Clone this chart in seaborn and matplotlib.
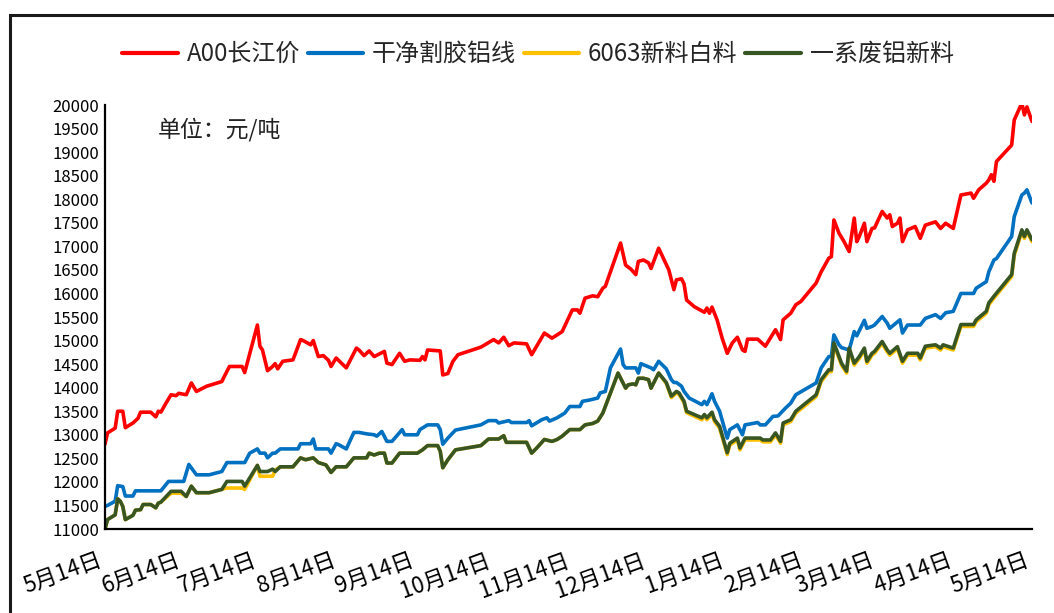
import numpy as np
import pandas as pd
import matplotlib
matplotlib.use("Agg")
import matplotlib.pyplot as plt
import matplotlib.dates as mdates
import matplotlib.transforms as mtransforms
from matplotlib.patches import Rectangle
import seaborn as sns

# ---------------- data (day offsets from 2020-05-14, price in 元/吨) ----------------
start_date = "2020-05-14"
end_date = "2021-05-14"

red_days = [0, 1, 4, 5, 7, 8, 11, 13, 14, 18, 20, 21, 22, 24, 26, 28, 29, 32, 34, 36, 40, 46, 47, 49, 54, 55,
            60, 61, 62, 64, 66, 67, 68, 70, 74, 75, 77, 78, 81, 82, 84, 86, 88, 89, 91, 95, 99, 100, 102, 104,
            106, 110, 111, 113, 116, 118, 120, 124, 125, 126, 127, 132, 133, 135, 137, 139, 148, 153, 155, 157,
            159, 161, 166, 168, 173, 176, 180, 184, 186, 187, 189, 192, 194, 196, 197, 203, 205, 207, 209, 210,
            212, 214, 215, 218, 222, 224, 225, 227, 228, 229, 232, 236, 237, 238, 239, 241, 243, 245, 247, 249,
            251, 252, 253, 257, 260, 264, 266, 267, 270, 272, 274, 280, 282, 285, 286, 287, 289, 291, 293, 295,
            296, 297, 299, 300, 302, 303, 306, 308, 309, 310, 312, 313, 314, 316, 319, 321, 323, 327, 329, 331,
            334, 337, 341, 342, 344, 347, 348, 349, 350, 351, 357, 358, 361, 362, 363, 365]
red_vals = [12800, 13040, 13140, 13500, 13500, 13150, 13250, 13350, 13480, 13480, 13380, 13500, 13480, 13670,
            13850, 13830, 13880, 13850, 14100, 13920, 14030, 14130, 14240, 14450, 14450, 14320, 15330, 14880,
            14800, 14360, 14450, 14510, 14400, 14560, 14590, 14730, 15020, 15000, 14910, 15000, 14660, 14680,
            14580, 14450, 14630, 14420, 14840, 14800, 14680, 14780, 14660, 14770, 14520, 14490, 14730, 14560,
            14590, 14580, 14660, 14590, 14800, 14780, 14270, 14300, 14560, 14700, 14860, 15020, 14950, 15070,
            14890, 14950, 14930, 14700, 15160, 15050, 15190, 15650, 15650, 15580, 15900, 15950, 15930, 16110,
            16150, 17070, 16600, 16520, 16400, 16680, 16710, 16650, 16530, 16960, 16500, 16080, 16290, 16310,
            16200, 15860, 15720, 15600, 15690, 15580, 15710, 15440, 15050, 14730, 14950, 15070, 14800, 14770,
            15030, 15030, 14880, 15230, 15020, 15440, 15580, 15760, 15830, 16220, 16460, 16750, 16780, 17560,
            17280, 17100, 16890, 17600, 17100, 17210, 17490, 17100, 17380, 17390, 17740, 17600, 17670, 17420,
            17490, 17600, 17100, 17350, 17420, 17170, 17450, 17520, 17380, 17490, 17380, 18090, 18130, 18020,
            18200, 18340, 18410, 18520, 18380, 18800, 19150, 19680, 20040, 19790, 19960, 19650]

blue_days = [0, 1, 4, 5, 7, 8, 11, 12, 22, 25, 31, 33, 36, 41, 46, 48, 55, 57, 60, 61, 63, 64, 66, 67, 69, 76,
             77, 81, 82, 83, 88, 89, 91, 92, 95, 98, 100, 103, 106, 107, 109, 111, 113, 117, 118, 123, 124, 127,
             131, 132, 133, 135, 138, 148, 151, 154, 155, 159, 160, 166, 167, 168, 172, 174, 175, 178, 181, 183,
             187, 188, 191, 194, 195, 197, 199, 203, 204, 205, 209, 210, 211, 215, 216, 218, 221, 223, 224, 225,
             227, 228, 230, 235, 236, 237, 239, 240, 242, 245, 246, 249, 251, 252, 257, 258, 260, 263, 265, 268,
             270, 272, 280, 282, 285, 286, 287, 289, 290, 293, 295, 296, 299, 300, 302, 303, 306, 308, 309, 313,
             314, 316, 321, 323, 327, 329, 331, 334, 337, 342, 343, 347, 348, 350, 351, 357, 358, 361, 362, 363,
             365]
blue_vals = [11480, 11500, 11590, 11920, 11900, 11700, 11700, 11810, 11810, 12010, 12010, 12370, 12150, 12150,
             12220, 12410, 12410, 12610, 12700, 12610, 12610, 12510, 12610, 12610, 12700, 12700, 12810, 12810,
             12910, 12700, 12700, 12610, 12810, 12790, 12700, 13050, 13050, 13020, 13000, 12970, 13070, 12860,
             12860, 13110, 13000, 13000, 13110, 13210, 13210, 13110, 12800, 12930, 13100, 13210, 13300, 13300,
             13250, 13300, 13260, 13260, 13300, 13190, 13320, 13360, 13290, 13360, 13460, 13600, 13600, 13710,
             13740, 13780, 13890, 13920, 14420, 14820, 14490, 14420, 14420, 14310, 14510, 14420, 14380, 14560,
             14400, 14170, 14110, 14110, 14030, 13920, 13780, 13640, 13710, 13640, 13870, 13710, 13500, 12930,
             13110, 13210, 13000, 13210, 13260, 13210, 13210, 13390, 13400, 13570, 13670, 13850, 14100, 14420,
             14660, 14660, 15120, 14910, 14850, 14800, 15190, 15100, 15430, 15260, 15300, 15330, 15510, 15370,
             15260, 15440, 15160, 15330, 15330, 15470, 15550, 15470, 15590, 15620, 16000, 16000, 16110, 16250,
             16460, 16710, 16740, 17210, 17630, 18090, 18130, 18200, 17920]

green_days = [0, 1, 4, 5, 6, 7, 8, 11, 12, 14, 15, 18, 20, 21, 22, 26, 30, 32, 34, 36, 41, 46, 48, 54, 55, 60,
              61, 64, 66, 67, 69, 74, 77, 79, 82, 84, 87, 89, 91, 95, 98, 103, 104, 106, 108, 110, 111, 113, 116,
              123, 125, 127, 131, 132, 133, 135, 138, 148, 151, 155, 157, 158, 166, 168, 170, 173, 176, 178, 180,
              183, 187, 189, 192, 194, 196, 197, 202, 205, 206, 208, 209, 210, 212, 214, 215, 218, 221, 223, 225,
              226, 228, 229, 235, 236, 237, 239, 240, 242, 245, 246, 249, 250, 252, 258, 259, 262, 264, 266, 267,
              270, 272, 280, 282, 285, 286, 287, 289, 290, 292, 293, 295, 297, 299, 300, 302, 303, 306, 308, 309,
              312, 314, 316, 320, 321, 323, 327, 329, 330, 334, 337, 342, 343, 347, 348, 350, 357, 358, 361, 362,
              363, 365]
green_vals = [11000, 11200, 11300, 11640, 11590, 11480, 11200, 11290, 11400, 11410, 11520, 11520, 11450, 11550,
              11570, 11800, 11800, 11690, 11910, 11770, 11770, 11840, 12010, 12010, 11910, 12350, 12220, 12220,
              12270, 12220, 12320, 12320, 12510, 12470, 12510, 12410, 12360, 12200, 12320, 12320, 12510, 12510,
              12610, 12570, 12610, 12610, 12400, 12400, 12610, 12610, 12680, 12770, 12770, 12650, 12300, 12470,
              12680, 12770, 12910, 12910, 12980, 12840, 12840, 12610, 12720, 12900, 12860, 12900, 12970, 13110,
              13110, 13210, 13240, 13290, 13460, 13600, 14310, 13990, 14060, 14080, 14060, 14200, 14200, 14170,
              13990, 14310, 14110, 13820, 13920, 13890, 13710, 13500, 13360, 13430, 13360, 13480, 13320, 13180,
              12620, 12820, 12930, 12720, 12930, 12930, 12890, 12890, 13040, 12860, 13250, 13320, 13500, 13850,
              14170, 14380, 14380, 14950, 14660, 14520, 14350, 14840, 14520, 14660, 14840, 14560, 14730, 14770,
              14980, 14800, 14730, 14870, 14560, 14730, 14730, 14630, 14880, 14910, 14840, 14910, 14840, 15340,
              15340, 15440, 15620, 15800, 15940, 16400, 16850, 17350, 17210, 17350, 17140]

yellow_days = green_days
yellow_vals = [11000, 11200, 11300, 11640, 11590, 11480, 11200, 11290, 11400, 11410, 11520, 11520, 11450, 11550,
               11570, 11760, 11760, 11690, 11910, 11770, 11770, 11840, 11870, 11870, 11840, 12350, 12120, 12120,
               12120, 12250, 12320, 12320, 12510, 12470, 12510, 12410, 12360, 12200, 12320, 12320, 12510, 12510,
               12610, 12570, 12610, 12610, 12400, 12400, 12610, 12610, 12680, 12770, 12770, 12650, 12300, 12470,
               12680, 12770, 12910, 12910, 12980, 12840, 12840, 12610, 12720, 12900, 12860, 12900, 12970, 13110,
               13110, 13210, 13240, 13290, 13460, 13600, 14310, 13990, 14060, 14080, 14060, 14200, 14200, 14170,
               13990, 14310, 14090, 13790, 13890, 13860, 13680, 13470, 13320, 13390, 13320, 13440, 13280, 13140,
               12580, 12780, 12890, 12680, 12890, 12890, 12850, 12850, 13000, 12820, 13210, 13280, 13460, 13810,
               14130, 14340, 14340, 14910, 14620, 14480, 14310, 14800, 14480, 14620, 14800, 14520, 14690, 14730,
               14940, 14760, 14690, 14830, 14520, 14690, 14690, 14590, 14840, 14870, 14800, 14870, 14800, 15300,
               15300, 15400, 15580, 15760, 15900, 16360, 16810, 17310, 17170, 17310, 17100]

series_names = ["A00长江价", "干净割胶铝线", "6063新料白料", "一系废铝新料"]
series_colors = ["#FF0000", "#0070C0", "#FFC000", "#375623"]
tick_months = [5, 6, 7, 8, 9, 10, 11, 12, 1, 2, 3, 4, 5]
tick_labels = [f"{m}月14日" for m in tick_months]
y_ticks = list(range(11000, 20001, 500))
unit_text = "单位：元/吨"

# ---------------- figure ----------------
sns.set_theme(style="white")
plt.rcParams["font.family"] = ["Noto Sans CJK SC", "DejaVu Sans"]
plt.rcParams["axes.unicode_minus"] = False

fig = plt.figure(figsize=(10.54, 6.13), dpi=100)
ax = fig.add_axes([105 / 1054, 1 - 529 / 613, (1032 - 105) / 1054, (529 - 105) / 613])

t0 = pd.Timestamp(start_date)
all_days = [red_days, blue_days, yellow_days, green_days]
all_vals = [red_vals, blue_vals, yellow_vals, green_vals]
for name, color, d, v in zip(series_names, series_colors, all_days, all_vals):
    dates = t0 + pd.to_timedelta(d, unit="D")
    sns.lineplot(x=dates, y=v, ax=ax, color=color, linewidth=2.6, label=name)

ax.set_xlim(t0, pd.Timestamp(end_date))
ax.set_ylim(11000, 20000)
ax.set_yticks(y_ticks)
ax.set_yticklabels([str(y) for y in y_ticks], fontsize=12, color="black")

ax.set_xlabel("")
ax.set_ylabel("")
for s in ["top", "right"]:
    ax.spines[s].set_visible(False)
for s in ["left", "bottom"]:
    ax.spines[s].set_color("black")
    ax.spines[s].set_linewidth(1.6)
ax.tick_params(axis="both", direction="in", length=6, width=1.4, color="black")
ax.tick_params(axis="y", pad=4)
ax.tick_params(axis="x", pad=14)
ax.grid(False)

tick_dates = pd.date_range("2020-05-01", "2021-05-01", freq="MS") + pd.Timedelta(days=13)
ax.set_xticks(tick_dates)
ax.set_xticklabels(tick_labels, fontsize=16, rotation=20, ha="right",
                   rotation_mode="anchor", color="black")
offset = mtransforms.ScaledTranslation(-8 / 100, 0, fig.dpi_scale_trans)
for lbl in ax.get_xticklabels():
    lbl.set_transform(lbl.get_transform() + offset)

ax.get_legend().remove()
handles, labels = ax.get_legend_handles_labels()
leg = fig.legend(handles, labels, loc="center", bbox_to_anchor=(538 / 1054, 1 - 54 / 613), ncol=4,
                 frameon=False, fontsize=17.3, handlelength=2.3, handletextpad=0.37, columnspacing=0.33)
for h in leg.get_lines():
    h.set_linewidth(3)

fig.text(158 / 1054, 1 - 130 / 613, unit_text, fontsize=16.5, color="#222222", va="center", ha="left")

border = Rectangle((10 / 1054, -0.1), 1.2, 1 - 15 / 613 + 0.1, transform=fig.transFigure,
                   fill=False, edgecolor="#1a1a1a", linewidth=2.2, clip_on=False)
fig.add_artist(border)

fig.savefig("out.png", dpi=100)
